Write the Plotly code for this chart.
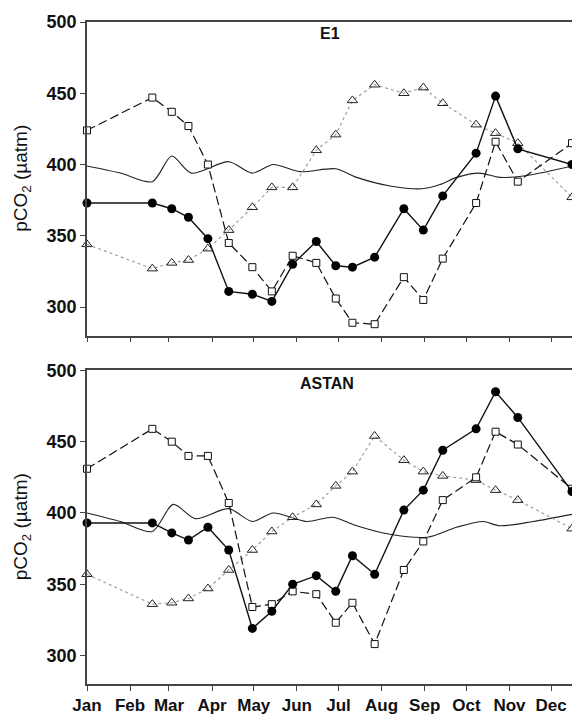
import plotly.graph_objects as go

# Sampling dates (day of year) shared by both stations
days = [0, 47, 61, 73, 87, 102, 119, 133, 148, 165, 179, 191, 207, 228, 242, 256, 280, 294, 310, 349]

# E1 station
e1_circles = [373, 373, 369, 363, 348, 311, 309, 304, 330, 346, 329, 328, 335, 369, 354, 378, 408, 448, 411, 400]
e1_squares = [424, 447, 437, 427, 400, 345, 328, 311, 336, 331, 306, 289, 288, 321, 305, 334, 373, 416, 388, 415]
e1_triangles = [344, 327, 331, 333, 341, 354, 370, 384, 384, 410, 421, 445, 456, 450, 454, 443, 428, 422, 415, 377]
e1_clim_days = [0, 24, 47, 61, 75, 102, 119, 134, 153, 179, 194, 218, 241, 254, 266, 282, 297, 314, 331, 349]
e1_clim = [399, 394, 388, 406, 394, 402, 394, 400, 395, 397, 391, 385, 383, 386, 391, 394, 391, 392, 395, 399]

# ASTAN station
as_circles = [393, 393, 386, 381, 390, 374, 319, 331, 350, 356, 345, 370, 357, 402, 416, 444, 459, 485, 467, 415]
as_squares = [431, 459, 450, 440, 440, 407, 334, 336, 345, 343, 323, 337, 308, 360, 380, 409, 425, 457, 448, 417]
as_triangles = [357, 336, 337, 340, 347, 360, 374, 387, 397, 406, 419, 429, 454, 437, 429, 426, 423, 416, 409, 389]
as_clim_days = [0, 24, 47, 62, 78, 102, 119, 134, 158, 177, 194, 218, 245, 266, 285, 297, 321, 349]
as_clim = [400, 394, 387, 406, 396, 403, 394, 400, 394, 397, 391, 385, 383, 390, 394, 391, 394, 399]

month_days = [0, 31, 59, 90, 120, 151, 181, 212, 243, 273, 304, 334]
month_labels = ["Jan", "Feb", "Mar", "Apr", "May", "Jun", "Jul", "Aug", "Sep", "Oct", "Nov", "Dec"]
y_ticks = [300, 350, 400, 450, 500]
panel_titles = ["E1", "ASTAN"]

FONT = "Liberation Sans, Arial, sans-serif"

fig = go.Figure()

def add_panel(xa, ya, clim_d, clim_v, circ, sq, tri):
    fig.add_trace(go.Scatter(x=clim_d, y=clim_v, mode="lines", xaxis=xa, yaxis=ya,
                             line=dict(color="#222", width=1.1, shape="spline", smoothing=0.8),
                             showlegend=False, hoverinfo="skip"))
    fig.add_trace(go.Scatter(x=days, y=tri, mode="lines+markers", xaxis=xa, yaxis=ya,
                             line=dict(color="#999", width=1.1, dash="dot"),
                             marker=dict(symbol="triangle-up-open", size=9, color="#222",
                                         line=dict(width=1)),
                             cliponaxis=False, showlegend=False))
    fig.add_trace(go.Scatter(x=days, y=sq, mode="lines+markers", xaxis=xa, yaxis=ya,
                             line=dict(color="#111", width=1.2, dash="9px,4px"),
                             marker=dict(symbol="square", size=7, color="white",
                                         line=dict(width=1, color="#111")),
                             cliponaxis=False, showlegend=False))
    fig.add_trace(go.Scatter(x=days, y=circ, mode="lines+markers", xaxis=xa, yaxis=ya,
                             line=dict(color="#111", width=1.4),
                             marker=dict(symbol="circle", size=9, color="#000"),
                             cliponaxis=False, showlegend=False))

add_panel("x", "y", e1_clim_days, e1_clim, e1_circles, e1_squares, e1_triangles)
add_panel("x2", "y2", as_clim_days, as_clim, as_circles, as_squares, as_triangles)

xcommon = dict(range=[0, 349], tickvals=month_days, ticks="outside", ticklen=5,
               tickcolor="#444", showline=True, linecolor="#444", linewidth=1.5,
               mirror=True, showgrid=False, zeroline=False,
               tickfont=dict(family=FONT, size=17, color="#111", weight="bold"))
ycommon = dict(range=[280, 500], tickvals=y_ticks, ticks="outside", ticklen=5,
               tickcolor="#444", showline=True, linecolor="#444", linewidth=1.5,
               showgrid=False, zeroline=False,
               tickfont=dict(family=FONT, size=18, color="#111", weight="bold"))

fig.update_layout(
    width=572, height=715,
    margin=dict(l=87, r=0, t=22, b=28),
    paper_bgcolor="white", plot_bgcolor="white",
    xaxis=dict(**xcommon, anchor="y", showticklabels=False),
    yaxis=dict(**ycommon, domain=[0.5263, 1.0], anchor="x"),
    xaxis2=dict(**xcommon, anchor="y2", ticktext=month_labels),
    yaxis2=dict(**ycommon, domain=[0.0, 0.4737], anchor="x2"),
)

annotations = [
    dict(text="<b>%s</b>" % panel_titles[0], x=175, y=492, xref="x", yref="y",
         showarrow=False, font=dict(family=FONT, size=16, color="#111")),
    dict(text="<b>%s</b>" % panel_titles[1], x=173, y=491, xref="x2", yref="y2",
         showarrow=False, font=dict(family=FONT, size=16, color="#111")),
]
for yr in ["y domain", "y2 domain"]:
    annotations.append(dict(text="pCO<sub>2</sub> (µatm)", x=-0.134, y=0.5, xref="paper", yref=yr,
                            textangle=-90, showarrow=False, xanchor="center", yanchor="middle",
                            font=dict(family=FONT, size=19, color="#111")))
fig.update_layout(annotations=annotations)

fig.write_html("out.html")
